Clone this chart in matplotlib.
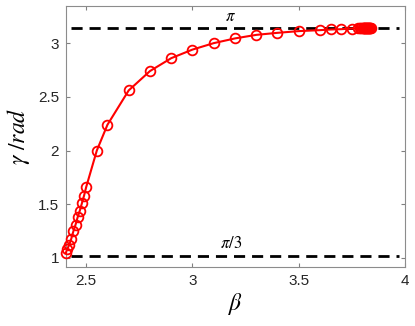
import matplotlib.pyplot as plt

# данные
beta = [2.405, 2.41, 2.42, 2.43, 2.44, 2.45, 2.46, 2.47, 2.48, 2.49, 2.50,
        2.55, 2.60, 2.70, 2.80, 2.90, 3.00, 3.10, 3.20, 3.30, 3.40, 3.50,
        3.60, 3.65, 3.70, 3.75,
        3.78, 3.79, 3.795, 3.80, 3.8025, 3.805, 3.8075, 3.81, 3.8125, 3.815,
        3.8175, 3.82, 3.8225, 3.825, 3.8275, 3.83, 3.8325, 3.835, 3.8375, 3.84]
gamma = [1.05, 1.08, 1.12, 1.18, 1.25, 1.31, 1.38, 1.44, 1.51, 1.58, 1.66,
         2.00, 2.24, 2.56, 2.74, 2.86, 2.94, 3.00, 3.044, 3.077, 3.096, 3.112,
         3.121, 3.127, 3.130, 3.136,
         3.138, 3.139, 3.139, 3.140, 3.140, 3.140, 3.140, 3.141, 3.141, 3.141,
         3.141, 3.141, 3.141, 3.141, 3.1415, 3.1415, 3.1415, 3.1415, 3.1416, 3.1416]

ref_lines = [3.1416, 1.015]
ref_labels = [r'$\pi$', r'$\pi/3$']

plt.rcParams['mathtext.fontset'] = 'stix'
plt.rcParams['font.family'] = ['Liberation Sans', 'DejaVu Sans']

fig = plt.figure(figsize=(4.15, 3.26), dpi=100)
ax = fig.add_axes([0.159, 0.18, 0.817, 0.802])

for yv in ref_lines:
    ax.plot([2.43, 3.97], [yv, yv], color='black', linestyle=(0, (4, 2.5)), linewidth=2)

ax.plot(beta, gamma, color='red', linewidth=1.5, marker='o', markersize=7,
        markerfacecolor='none', markeredgecolor='red', markeredgewidth=1.3,
        clip_on=False, zorder=5)

ax.text(3.18, 3.25, ref_labels[0], fontsize=12, ha='center', va='center')
ax.text(3.18, 1.135, ref_labels[1], fontsize=12, ha='center', va='center')

ax.set_xlim(2.405, 4)
ax.set_ylim(0.913, 3.347)
ax.set_xticks([2.5, 3, 3.5, 4])
ax.set_xticklabels(['2.5', '3', '3.5', '4'])
ax.set_yticks([1, 1.5, 2, 2.5, 3])
ax.set_yticklabels(['1', '1.5', '2', '2.5', '3'])

ax.tick_params(direction='in', top=True, right=True, length=3, width=0.8,
               colors='0.5', labelcolor='0.15', labelsize=11, pad=5)
for s in ax.spines.values():
    s.set_color('0.55')
    s.set_linewidth(0.8)

ax.set_xlabel(r'$\beta$', fontsize=17, labelpad=2)
ax.set_ylabel(r'$\gamma\ /rad$', fontsize=17, labelpad=4)

fig.savefig('out.png')
